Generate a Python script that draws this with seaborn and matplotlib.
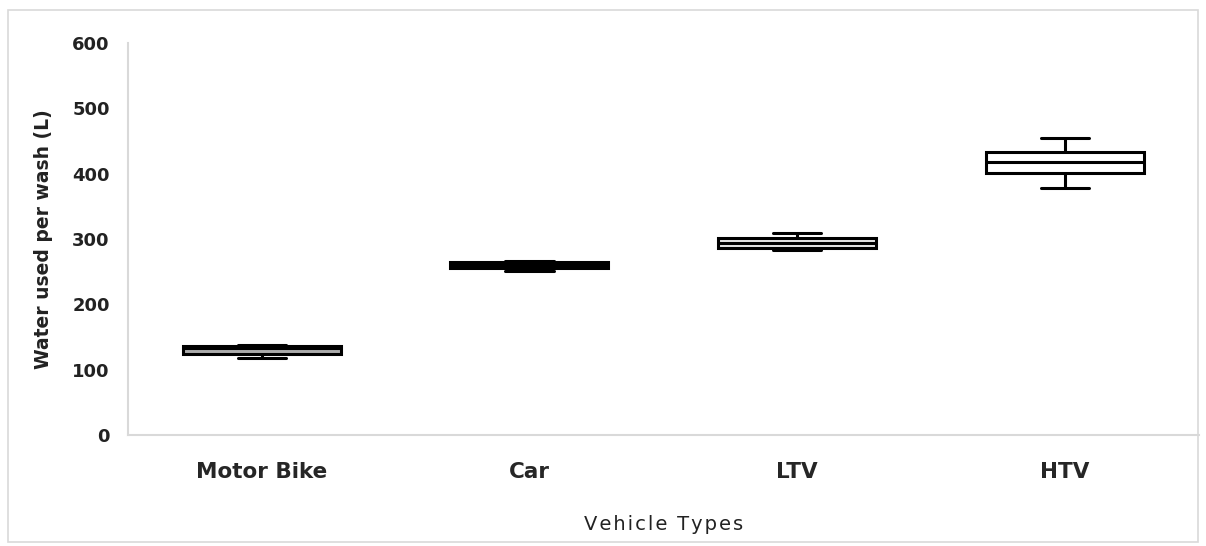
import numpy as np
import pandas as pd
import matplotlib.pyplot as plt
import seaborn as sns
from matplotlib.patches import Rectangle

# Five-number summaries (min, Q1, median, Q3, max)
vehicles = ['Motor Bike', 'Car', 'LTV', 'HTV']
mins = [118, 251, 283, 378]
q1s = [124, 256, 286, 401]
medians = [133, 261, 294, 418]
q3s = [137, 265, 302, 433]
maxs = [138, 266, 309, 455]
box_colors = ['#ababab', '#8c8c8c', '#e6e6e6', '#ffffff']

rows = []
for i, v in enumerate(vehicles):
    for val in [mins[i], q1s[i], medians[i], q3s[i], maxs[i]]:
        rows.append({'Vehicle': v, 'Water': val})
df = pd.DataFrame(rows)

sns.set_style('white')
plt.rcParams['font.family'] = ['DejaVu Sans']

fig = plt.figure(figsize=(12.06, 5.46), dpi=100)
ax = fig.add_axes([0.106, 0.203, 0.888, 0.718])

sns.boxplot(data=df, x='Vehicle', y='Water', hue='Vehicle', palette=box_colors,
            order=vehicles, whis=(0, 100), width=0.59, linewidth=2.2,
            linecolor='black', legend=False, ax=ax,
            capwidths=0.18,
            medianprops=dict(color='black', linewidth=2.2))

ax.set_ylim(0, 600)
ax.set_yticks([0, 100, 200, 300, 400, 500, 600])
ax.set_yticklabels(['0', '100', '200', '300', '400', '500', '600'],
                   fontsize=13, fontweight='bold', color='#222222')
ax.tick_params(axis='x', labelsize=15.5, pad=19, length=0)
ax.tick_params(axis='y', pad=13, length=0)
for lbl in ax.get_xticklabels():
    lbl.set_fontweight('bold')

ax.set_xlabel('V e h i c l e   T y p e s'.replace('   ', '\u2002').replace(' ', '\u200a'),
              fontsize=14, labelpad=24, color='#222222')
ax.set_ylabel('Water used per wash (L)', fontsize=13.5, fontweight='bold',
              labelpad=14, color='#222222')

for side in ['top', 'right']:
    ax.spines[side].set_visible(False)
for side in ['left', 'bottom']:
    ax.spines[side].set_color('#d9d9d9')
    ax.spines[side].set_linewidth(1.5)

# light frame around the chart area
fig.patches.append(Rectangle((8 / 1206, 4 / 546), 1190 / 1206, 532 / 546,
                             transform=fig.transFigure, fill=False,
                             edgecolor='#d9d9d9', linewidth=1.2))

fig.savefig('out.png', dpi=100)
